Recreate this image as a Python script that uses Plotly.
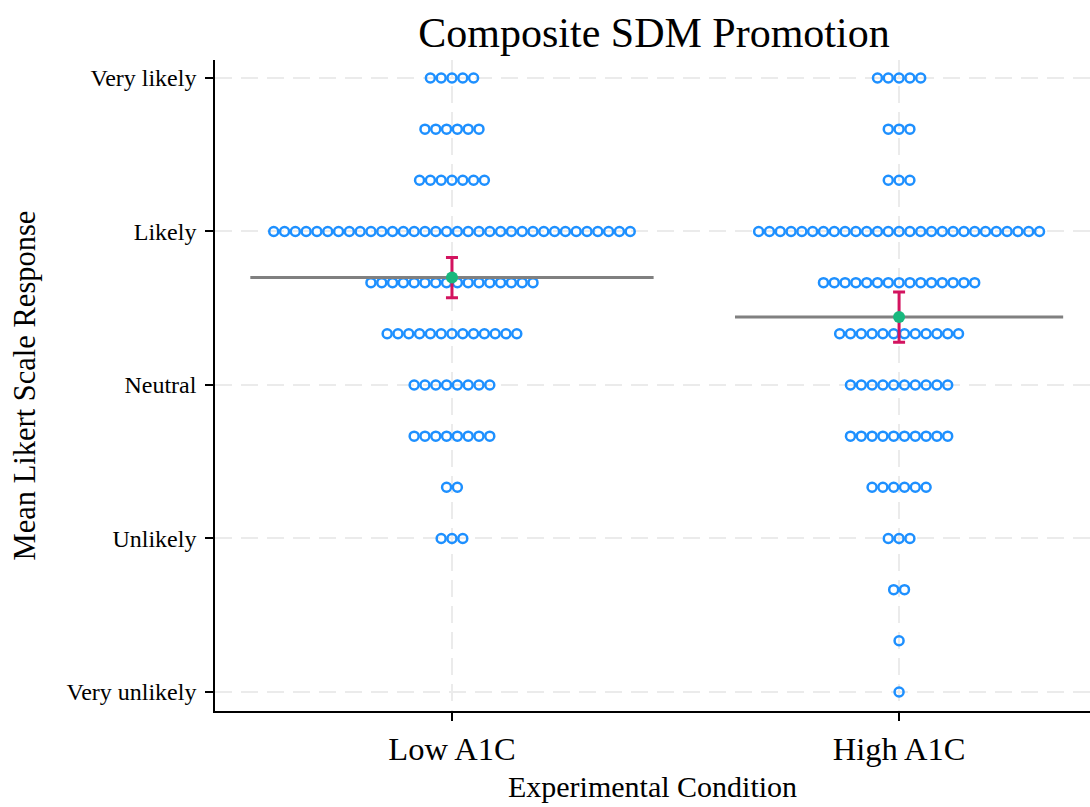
import numpy as np
import plotly.graph_objects as go

# ---- data ----
conditions = ["Low A1C", "High A1C"]
levels = [5, 14/3, 13/3, 4, 11/3, 10/3, 3, 8/3, 7/3, 2, 5/3, 4/3, 1]
low_counts = [5, 6, 7, 34, 16, 13, 8, 8, 2, 3, 0, 0, 0]
high_counts = [5, 3, 3, 27, 15, 12, 10, 10, 6, 3, 2, 1, 1]
tick_vals = [1, 2, 3, 4, 5]
tick_text = ["Very unlikely", "Unlikely", "Neutral", "Likely", "Very likely"]

FONT = "Liberation Serif"
DOT_STEP = 0.02416          # horizontal spacing between stacked dots (x units)
MEAN_HALF = [0.451, 0.367]  # half width of mean line per condition

fig = go.Figure()

all_counts = [low_counts, high_counts]
means, cis = [], []
for ci_idx, counts in enumerate(all_counts):
    xs, ys, vals = [], [], []
    for lev, n in zip(levels, counts):
        for i in range(n):
            xs.append(ci_idx + (i - (n - 1) / 2) * DOT_STEP)
            ys.append(lev)
        vals += [lev] * n
    vals = np.array(vals)
    m = vals.mean()
    se = vals.std(ddof=1) / np.sqrt(len(vals))
    means.append(m)
    cis.append(1.96 * se)
    fig.add_trace(go.Scatter(
        x=xs, y=ys, mode="markers",
        marker=dict(symbol="circle-open", size=9, color="#1e90ff",
                    line=dict(width=2.5, color="#1e90ff")),
        showlegend=False, hoverinfo="skip"))

for ci_idx in range(2):
    fig.add_trace(go.Scatter(
        x=[ci_idx - MEAN_HALF[ci_idx], ci_idx + MEAN_HALF[ci_idx]],
        y=[means[ci_idx]] * 2, mode="lines",
        line=dict(color="#808080", width=3),
        showlegend=False, hoverinfo="skip"))

fig.add_trace(go.Scatter(
    x=[0, 1], y=means, mode="markers",
    marker=dict(symbol="circle", size=12, color="#19b87e"),
    error_y=dict(type="data", array=cis, visible=True,
                 color="#d3135f", thickness=3, width=6),
    showlegend=False))

grid = dict(showgrid=True, gridcolor="#ebebeb", gridwidth=2, griddash="17px,9px")

fig.update_layout(
    width=1090, height=807,
    margin=dict(l=215, r=0, t=60, b=96),
    paper_bgcolor="white", plot_bgcolor="white",
    font=dict(family=FONT, color="black"),
    title=dict(text="Composite SDM Promotion", x=0.6, xanchor="center",
               y=0.96, yanchor="middle", font=dict(size=42, family=FONT)),
    xaxis=dict(range=[-0.53, 1.427], tickvals=[0, 1], ticktext=conditions,
               tickfont=dict(size=32.5), ticks="outside", ticklen=8, tickwidth=1.5,
               tickcolor="black", showline=True, linecolor="black", linewidth=1.5,
               zeroline=False,
               title=dict(text="Experimental Condition", font=dict(size=30), standoff=10),
               **grid),
    yaxis=dict(range=[0.876, 5.117], tickvals=tick_vals, ticktext=tick_text,
               tickfont=dict(size=24), ticks="outside", ticklen=8, tickwidth=1.5,
               tickcolor="black", showline=True, linecolor="black", linewidth=1.5,
               zeroline=False, ticklabelstandoff=4,
               title=dict(text="Mean Likert Scale Response", font=dict(size=30.5), standoff=22),
               **grid),
)

fig.write_html("out.html")
